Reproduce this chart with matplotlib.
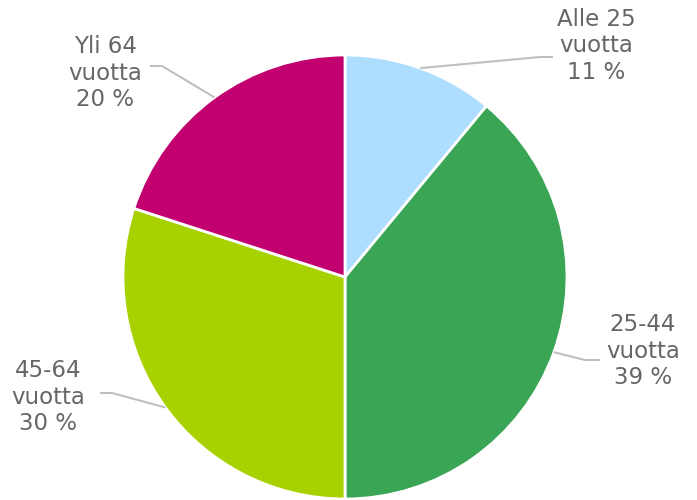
import matplotlib
matplotlib.use("Agg")
from matplotlib import pyplot as plt
import numpy as np

labels = ["Alle 25\nvuotta", "25-44\nvuotta", "45-64\nvuotta", "Yli 64\nvuotta"]
shares = [11, 39, 30, 20]
colors = ["#ADDDFF", "#3AA655", "#A8D100", "#C20070"]

# label layout in pixel coords (x, y from top), elbow and end of leader line
label_pos = [(596, 46), (643, 351), (48, 397), (105, 73)]
elbows = [(540, 57), (585, 360), (112, 393), (162, 66)]
ends = [(553, 57), (600, 360), (100, 393), (150, 66)]

W, H = 697, 500
cx, cy, r = 345, 277, 222

fig = plt.figure(figsize=(W / 100, H / 100), dpi=100)
ax = fig.add_axes([0, 0, 1, 1])
ax.set_xlim(0, W)
ax.set_ylim(0, H)
ax.set_aspect("equal")
ax.axis("off")

wedges, _ = ax.pie(shares, colors=colors, startangle=90, counterclock=False,
                   center=(cx, H - cy), radius=r,
                   wedgeprops=dict(edgecolor="white", linewidth=2))
ax.set_xlim(0, W)
ax.set_ylim(0, H)

for w, lab, val, pos, el, en in zip(wedges, labels, shares, label_pos, elbows, ends):
    mid = np.deg2rad((w.theta1 + w.theta2) / 2)
    px = cx + r * np.cos(mid)
    py = (H - cy) + r * np.sin(mid)
    ax.plot([px, el[0], en[0]], [py, H - el[1], H - en[1]],
            color="#BFBFBF", linewidth=1.5, solid_capstyle="butt")
    ax.text(pos[0], H - pos[1], f"{lab}\n{val} %", ha="center", va="center",
            fontsize=16.5, color="#666666", linespacing=1.22)

fig.savefig("out.png", dpi=100)
